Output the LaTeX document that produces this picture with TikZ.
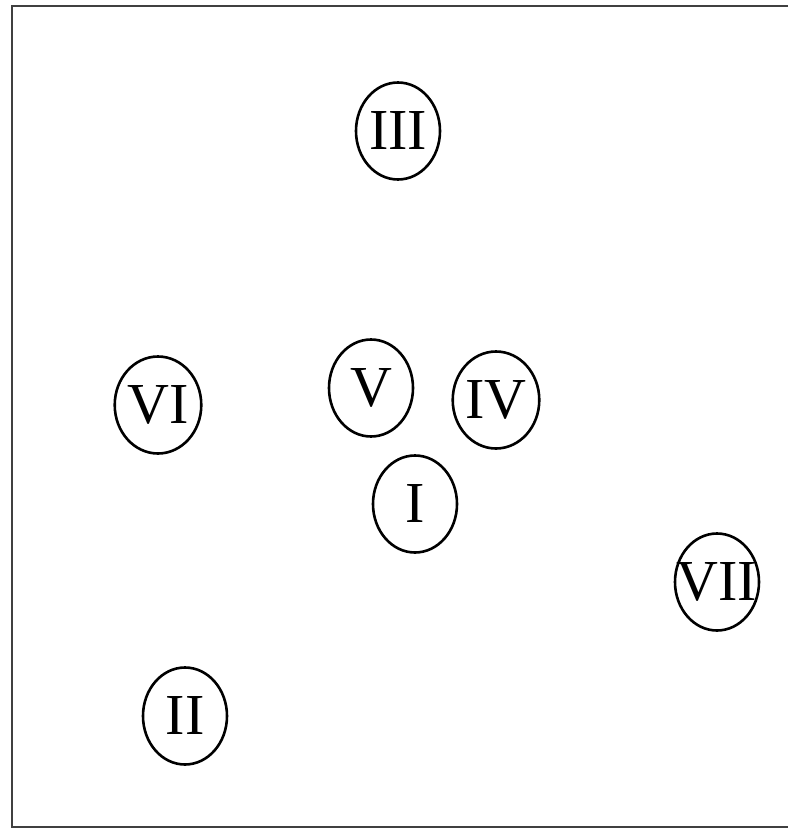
\documentclass[tikz,border=0pt]{standalone}
\usepackage{fontspec}
\setmainfont{Liberation Serif}
\usetikzlibrary{shapes.geometric}

\begin{document}
\begin{tikzpicture}[
		x=0.5pt, y=-0.5pt,
		group/.style={draw, ellipse, line width=1.3pt, inner sep=0pt,
			minimum width=42pt, minimum height=48.5pt,
			font=\fontsize{29}{30}\selectfont},
		frame/.style={line width=1.4pt, color=black!75}
		]
		\useasboundingbox (0,0) rectangle (788,830);
		
		% FRAME (open on the right)
		\draw[frame] (788,6) -- (12,6) -- (12,827) -- (788,827);
		
		% GROUPS
		\node[group] (g3) at (398,131) {III};
		\node[group] (g6) at (158,405) {VI};
		\node[group] (g5) at (371,388) {V};
		\node[group] (g4) at (496,400) {IV};
		\node[group] (g1) at (415,504) {I};
		\node[group, inner xsep=-7pt] (g7) at (717,582) {VII};
		\node[group] (g2) at (185,716) {II};
		
	\end{tikzpicture}
\end{document}
